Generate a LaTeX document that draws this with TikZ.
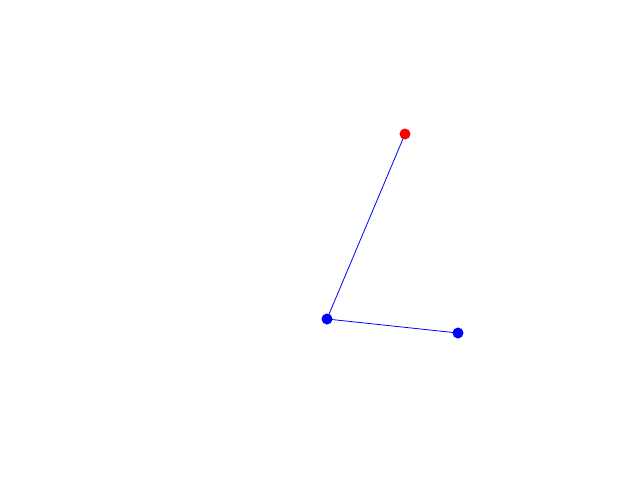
\documentclass[tikz,border=0pt]{standalone}
\usetikzlibrary{backgrounds}
\begin{document}
\begin{tikzpicture}[x=1pt,y=-1pt,
  dot/.style={circle,inner sep=0pt,minimum size=11pt},
  link/.style={draw=blue,line width=0.8pt}]
\useasboundingbox (0,0) rectangle (640,480);
\node[dot,fill=red] (r) at (405,134) {};
\node[dot,fill=blue] (a) at (327,319) {};
\node[dot,fill=blue] (b) at (458,333) {};
\begin{scope}[on background layer]
\fill[white] (0,0) rectangle (640,480);
\draw[link] (r.center) -- (a.center) -- (b.center);
\end{scope}
\end{tikzpicture}
\end{document}
